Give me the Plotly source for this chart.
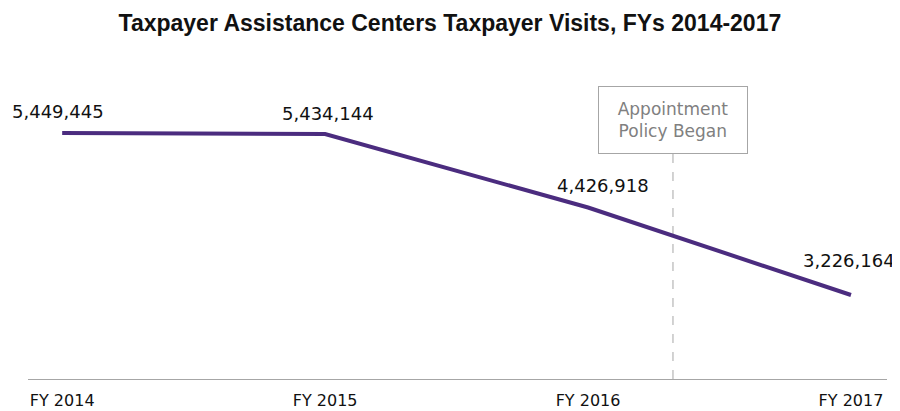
import plotly.graph_objects as go

years = ["FY 2014", "FY 2015", "FY 2016", "FY 2017"]
visits = [5449445, 5434144, 4426918, 3226164]
visit_labels = ["5,449,445", "5,434,144", "4,426,918", "3,226,164"]
label_dx = [-4, 3, 15, -2]
label_dy = [21, 21, 22, 34]
policy_x = 2.323
policy_top = 5161000
policy_text = "Appointment<br>Policy Began"

xs = list(range(len(years)))
Y0, Y1 = 2073000, 6176800
FONT = "DejaVu Sans, Verdana, sans-serif"

fig = go.Figure()
fig.add_shape(type="line", x0=policy_x, x1=policy_x, y0=Y0, y1=policy_top,
              xref="x", yref="y", line=dict(color="#a6a6a6", width=1, dash="dash"), layer="below")
fig.add_trace(go.Scatter(
    x=xs, y=visits, mode="lines",
    line=dict(color="#4B2C7F", width=4),
    hoverinfo="skip", showlegend=False,
))

for x, y, t, dx, dy in zip(xs, visits, visit_labels, label_dx, label_dy):
    fig.add_annotation(x=x, y=y, text=t, showarrow=False, yshift=dy, xshift=dx,
                       font=dict(family=FONT, size=18, color="#111"))

fig.add_annotation(x=policy_x, y=policy_top, yanchor="bottom", text=policy_text, showarrow=False,
                   font=dict(family=FONT, size=17, color="#808080"), width=126, height=44,
                   bordercolor="#a6a6a6", borderwidth=1, borderpad=11, bgcolor="white")

fig.update_layout(
    width=900, height=411,
    margin=dict(l=20, r=21, t=72, b=40),
    plot_bgcolor="white", paper_bgcolor="white",
    title=dict(text="<b>Taxpayer Assistance Centers Taxpayer Visits, FYs 2014-2017</b>",
               x=0.491, xanchor="center", y=0.964, yanchor="middle",
               font=dict(family="Liberation Sans Narrow, Arial Narrow, Liberation Sans, sans-serif", size=23, color="#111")),
    xaxis=dict(range=[-0.13, 3.137], tickvals=xs, ticktext=years, showgrid=False, zeroline=False,
               showline=True, linecolor="#a6a6a6", linewidth=1, ticks="", ticklabelstandoff=7,
               automargin=False,
               tickfont=dict(family=FONT, size=16, color="#111")),
    yaxis=dict(range=[Y0, Y1], visible=False, showgrid=False, zeroline=False, automargin=False),
)

fig.write_html("out.html")
